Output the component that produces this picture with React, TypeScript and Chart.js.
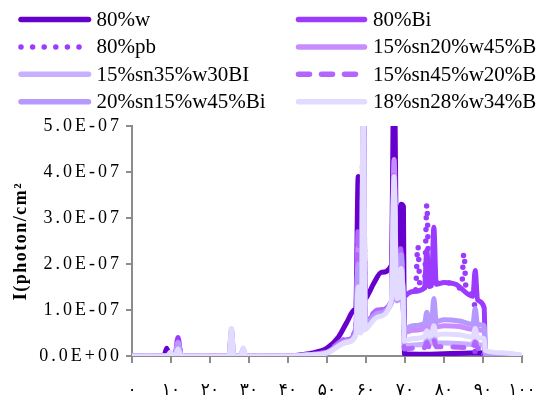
import React, { useEffect, useRef } from "react";
import { Chart, registerables } from "chart.js";

Chart.register(...registerables);

// values are in units of 1E-07 photon/cm²
const UNIT = 1e-7;

const seriesNames = [
  "80%w",
  "80%Bi",
  "80%pb",
  "15%sn20%w45%Bi",
  "15%sn35%w30BI",
  "15%sn45%w20%Bi",
  "20%sn15%w45%Bi",
  "18%sn28%w34%Bi",
];

const seriesColors = [
  "#6600CC",
  "#9B3BFF",
  "#9B3BFF",
  "#C98CFF",
  "#C7B1FF",
  "#B366FF",
  "#B599FF",
  "#E3DBFF",
];

const xTickValues = [0, 10, 20, 30, 40, 50, 60, 70, 80, 90, 100];
const xTickLabels = ["۰", "۱۰", "۲۰", "۳۰", "۴۰", "۵۰", "۶۰", "۷۰", "۸۰", "۹۰", "۱۰۰"];
const yTickValues = [0, 1e-7, 2e-7, 3e-7, 4e-7, 5e-7];
const yTickLabels = ["0.0E+00", "1.0E-07", "2.0E-07", "3.0E-07", "4.0E-07", "5.0E-07"];

// 80%w
const w80E = [0, 8.2, 8.9, 9.6, 40, 43, 46, 50, 53, 55, 57.0, 57.4, 58.0, 58.6, 58.8, 59.3, 59.8, 60.5, 62, 64, 66.5, 67.2, 67.9, 68.4, 69.0, 69.6, 69.85, 75, 80, 85, 89.6, 90.0, 100];
const w80I = [0, 0, 0.17, 0, 0, 0.02, 0.06, 0.17, 0.42, 0.72, 1.0, 1.05, 3.9, 1.15, 1.17, 5.8, 1.25, 1.33, 1.58, 1.82, 1.97, 6.5, 2.03, 2.07, 3.3, 3.25, 0.05, 0.04, 0.05, 0.06, 0.07, 0, 0];

// 80%Bi
const bi80E = [0, 11.0, 11.8, 12.6, 40, 45, 50, 55, 57.4, 58.0, 58.6, 58.8, 59.3, 59.8, 60.5, 63, 66.5, 67.2, 67.9, 68.4, 69.0, 69.6, 72, 75.0, 75.6, 76.2, 76.8, 77.4, 78.0, 80, 83, 87.4, 88.0, 88.6, 90.3, 90.6, 100];
const bi80I = [0, 0, 0.4, 0, 0, 0.02, 0.08, 0.35, 0.55, 2.6, 0.6, 0.62, 5.6, 0.7, 0.75, 0.98, 1.18, 3.5, 1.22, 1.26, 2.3, 1.32, 1.4, 1.48, 2.3, 1.51, 1.53, 2.8, 1.56, 1.6, 1.56, 1.3, 1.86, 1.22, 1.05, 0.03, 0];

// 80%pb
const pb80E = [0, 11.0, 11.8, 12.6, 40, 45, 50, 55, 57.4, 58.0, 58.6, 58.8, 59.3, 59.8, 60.5, 63, 66.5, 67.2, 67.9, 68.4, 69.0, 69.6, 71, 72.7, 73.3, 73.9, 75.0, 75.6, 76.2, 78, 80, 82, 84.5, 85.1, 85.7, 87.8, 88.0, 100];
const pb80I = [0, 0, 0.35, 0, 0, 0.02, 0.08, 0.34, 0.53, 2.4, 0.58, 0.6, 5.6, 0.68, 0.73, 0.96, 1.16, 3.4, 1.2, 1.24, 2.2, 1.3, 1.36, 1.43, 2.4, 1.45, 1.49, 3.3, 1.52, 1.58, 1.6, 1.57, 1.47, 2.24, 1.43, 1.15, 0.03, 0];

// 15%sn20%w45%Bi
const s20E = [0, 11.0, 11.8, 12.6, 24.9, 25.5, 26.1, 27.9, 28.5, 29.1, 40, 45, 50, 55, 57.4, 58.0, 58.6, 58.8, 59.3, 59.8, 60.5, 63, 66.5, 67.2, 67.9, 68.4, 69.0, 69.5, 69.8, 72, 75.0, 75.6, 76.2, 76.8, 77.4, 78.0, 80, 84, 87.4, 88.0, 88.6, 90.3, 90.6, 95, 100];
const s20I = [0, 0, 0.3, 0, 0, 0.5, 0, 0, 0.14, 0, 0, 0.02, 0.08, 0.33, 0.52, 2.4, 0.57, 0.59, 5.6, 0.67, 0.72, 0.95, 1.16, 4.27, 1.2, 1.24, 2.1, 1.3, 0.51, 0.56, 0.6, 0.78, 0.61, 0.62, 0.9, 0.63, 0.66, 0.64, 0.58, 0.78, 0.57, 0.55, 0.05, 0.03, 0.01];

// 15%sn35%w30BI
const s35E = [0, 11.0, 11.8, 12.6, 24.9, 25.5, 26.1, 27.9, 28.5, 29.1, 40, 45, 50, 55, 57.4, 58.0, 58.6, 58.8, 59.3, 59.8, 60.5, 63, 66.5, 67.2, 67.9, 68.4, 69.0, 69.5, 69.8, 72, 75.0, 75.6, 76.2, 76.8, 77.4, 78.0, 80, 84, 87.4, 88.0, 88.6, 90.3, 90.6, 95, 100];
const s35I = [0, 0, 0.25, 0, 0, 0.55, 0, 0, 0.15, 0, 0, 0.02, 0.07, 0.3, 0.47, 2.0, 0.53, 0.55, 5.6, 0.64, 0.7, 0.9, 1.15, 3.6, 1.2, 1.25, 2.0, 1.3, 0.22, 0.24, 0.26, 0.36, 0.27, 0.27, 0.5, 0.28, 0.28, 0.27, 0.25, 0.4, 0.25, 0.22, 0.04, 0.02, 0.01];

// 15%sn45%w20%Bi
const s45E = [0, 11.0, 11.8, 12.6, 24.9, 25.5, 26.1, 27.9, 28.5, 29.1, 40, 45, 50, 55, 57.4, 58.0, 58.6, 58.8, 59.3, 59.8, 60.5, 63, 66.5, 67.2, 67.9, 68.4, 69.0, 69.5, 69.8, 72, 75.0, 75.6, 76.2, 76.8, 77.4, 78.0, 80, 84, 87.4, 88.0, 88.6, 90.3, 90.6, 95, 100];
const s45I = [0, 0, 0.22, 0, 0, 0.55, 0, 0, 0.15, 0, 0, 0.03, 0.1, 0.38, 0.6, 2.8, 0.66, 0.68, 5.6, 0.76, 0.8, 1.0, 1.18, 4.0, 1.22, 1.26, 2.4, 1.3, 0.15, 0.17, 0.18, 0.3, 0.19, 0.19, 0.35, 0.2, 0.2, 0.19, 0.17, 0.3, 0.17, 0.16, 0.03, 0.02, 0.01];

// 20%sn15%w45%Bi
const s15E = [0, 11.0, 11.8, 12.6, 24.9, 25.5, 26.1, 27.9, 28.5, 29.1, 40, 45, 50, 55, 57.4, 58.0, 58.6, 58.8, 59.3, 59.8, 60.5, 63, 66.5, 67.2, 67.9, 68.4, 69.0, 69.5, 69.8, 72, 75.0, 75.6, 76.2, 76.8, 77.4, 78.0, 80, 84, 87.4, 88.0, 88.6, 90.3, 90.6, 95, 100];
const s15I = [0, 0, 0.25, 0, 0, 0.58, 0, 0, 0.16, 0, 0, 0.02, 0.08, 0.32, 0.5, 2.0, 0.58, 0.6, 5.6, 0.68, 0.73, 0.93, 1.18, 3.8, 1.22, 1.27, 2.2, 1.3, 0.59, 0.66, 0.71, 0.95, 0.72, 0.73, 1.25, 0.75, 0.79, 0.76, 0.69, 1.03, 0.68, 0.66, 0.05, 0.03, 0.01];

// 18%sn28%w34%Bi
const s28E = [0, 9.1, 9.8, 10.5, 11.0, 11.8, 12.6, 24.9, 25.5, 26.1, 27.9, 28.5, 29.1, 40, 45, 50, 55, 57.4, 58.0, 58.6, 58.8, 59.3, 59.8, 60.5, 63, 66.5, 67.2, 67.9, 68.4, 69.0, 69.5, 69.8, 72, 75.0, 75.6, 76.2, 76.8, 77.4, 78.0, 80, 84, 87.4, 88.0, 88.6, 90.3, 90.6, 95, 100];
const s28I = [0, 0, 0.08, 0, 0, 0.15, 0, 0, 0.6, 0, 0, 0.18, 0, 0, 0.02, 0.07, 0.3, 0.47, 1.5, 0.5, 0.52, 6.0, 0.57, 0.63, 0.85, 1.2, 3.9, 1.25, 1.27, 1.9, 1.3, 0.33, 0.38, 0.42, 0.55, 0.44, 0.45, 0.66, 0.46, 0.48, 0.46, 0.41, 0.6, 0.4, 0.38, 0.12, 0.07, 0.02];

const seriesE = [w80E, bi80E, pb80E, s20E, s35E, s45E, s15E, s28E];
const seriesI = [w80I, bi80I, pb80I, s20I, s35I, s45I, s15I, s28I];
const seriesDash: number[][] = [[], [], [0, 11.6], [], [], [11, 12], [], []];

const legendPlugin = {
  id: "customLegend",
  afterDraw(chart: any) {
    const ctx = chart.ctx as CanvasRenderingContext2D;
    ctx.save();
    seriesNames.forEach((name, i) => {
      const col = i % 2;
      const row = Math.floor(i / 2);
      const y = 19.5 + row * 27.4;
      const x0 = col === 0 ? 21 : 298.5;
      const x1 = col === 0 ? 88.5 : 364.5;
      ctx.strokeStyle = seriesColors[i];
      ctx.lineWidth = 5.5;
      ctx.lineCap = "round";
      ctx.setLineDash(seriesDash[i]);
      ctx.beginPath();
      if (i === 2) {
        ctx.moveTo(21, y);
        ctx.lineTo(80, y);
      } else if (i === 5) {
        ctx.moveTo(298.5, y);
        ctx.lineTo(356, y);
      } else {
        ctx.moveTo(x0, y);
        ctx.lineTo(x1, y);
      }
      ctx.stroke();
      ctx.setLineDash([]);
      ctx.fillStyle = "#000";
      ctx.font = '21px "Liberation Serif", serif';
      ctx.textBaseline = "middle";
      ctx.textAlign = "left";
      ctx.fillText(name, col === 0 ? 96.5 : 373, y + 1);
    });
    ctx.restore();
  },
};

const spacingPlugin = {
  id: "ySpacing",
  beforeDraw(chart: any) {
    const s = chart.scales.y;
    if (s && !s.__patched) {
      const origLabels = s.drawLabels.bind(s);
      const origTitle = s.drawTitle.bind(s);
      s.drawLabels = (area: any) => {
        const ctx = s.ctx;
        ctx.save();
        (ctx as any).letterSpacing = "3px";
        origLabels(area);
        ctx.restore();
      };
      s.drawTitle = (area: any) => {
        const ctx = s.ctx;
        ctx.save();
        (ctx as any).letterSpacing = "1.5px";
        origTitle(area);
        ctx.restore();
      };
      s.__patched = true;
    }
  },
};

export default function App() {
  const ref = useRef<HTMLCanvasElement | null>(null);

  useEffect(() => {
    if (!ref.current) return;
    const n = seriesNames.length;
    const datasets = seriesNames.map((name, i) => ({
      label: name,
      data: seriesE[i].map((e, k) => ({ x: e, y: seriesI[i][k] * UNIT })),
      borderColor: seriesColors[i],
      backgroundColor: seriesColors[i],
      borderWidth: i === 2 ? 5.5 : 5,
      borderDash: seriesDash[i],
      borderCapStyle: "round" as const,
      borderJoinStyle: "round" as const,
      pointRadius: 0,
      fill: false,
      cubicInterpolationMode: "monotone" as const,
      order: n - 1 - i,
    }));

    const chart = new Chart(ref.current, {
      type: "line",
      data: { datasets },
      options: {
        animation: false,
        responsive: false,
        devicePixelRatio: 1,
        events: [],
        layout: { padding: { top: 126, right: 14, left: 0, bottom: 0 } },
        plugins: { legend: { display: false }, tooltip: { enabled: false } },
        scales: {
          x: {
            type: "linear",
            min: 0,
            max: 100,
            afterFit: (scale: any) => {
              scale.height = 40;
              scale.paddingLeft = 0;
              scale.paddingRight = 0;
            },
            afterBuildTicks: (scale: any) => {
              scale.ticks = xTickValues.map((v) => ({ value: v }));
            },
            ticks: {
              autoSkip: false,
              maxRotation: 0,
              padding: 17,
              color: "#000",
              font: { family: '"DejaVu Sans", sans-serif', size: 17 },
              callback: (_v: any, i: number) => xTickLabels[i],
            },
            grid: { display: true, drawOnChartArea: false, drawTicks: true, tickLength: 7, color: "#8c8c8c", lineWidth: 2 },
            border: { display: true, color: "#8c8c8c", width: 2 },
          },
          y: {
            type: "linear",
            min: 0,
            max: 5e-7,
            afterFit: (scale: any) => {
              scale.width = 132;
              scale.paddingTop = 0;
              scale.paddingBottom = 0;
            },
            afterBuildTicks: (scale: any) => {
              scale.ticks = yTickValues.map((v) => ({ value: v }));
            },
            ticks: {
              autoSkip: false,
              padding: 4,
              color: "#000",
              font: { family: '"Liberation Serif", serif', size: 18 },
              callback: (_v: any, i: number) => yTickLabels[i],
            },
            title: {
              display: true,
              text: "I(photon/cm²",
              color: "#000",
              padding: { top: 11, bottom: 0 },
              font: { family: '"Liberation Serif", serif', size: 18, weight: "bold" },
            },
            grid: { display: true, drawOnChartArea: false, drawTicks: true, tickLength: 6, color: "#8c8c8c", lineWidth: 2 },
            border: { display: true, color: "#8c8c8c", width: 2 },
          },
        },
      },
      plugins: [legendPlugin, spacingPlugin],
    });
    return () => chart.destroy();
  }, []);

  return (
    <div style={{ position: "fixed", left: 0, top: 0, width: 536, height: 396, background: "#fff" }}>
      <canvas ref={ref} width={536} height={396} style={{ display: "block" }} />
    </div>
  );
}
